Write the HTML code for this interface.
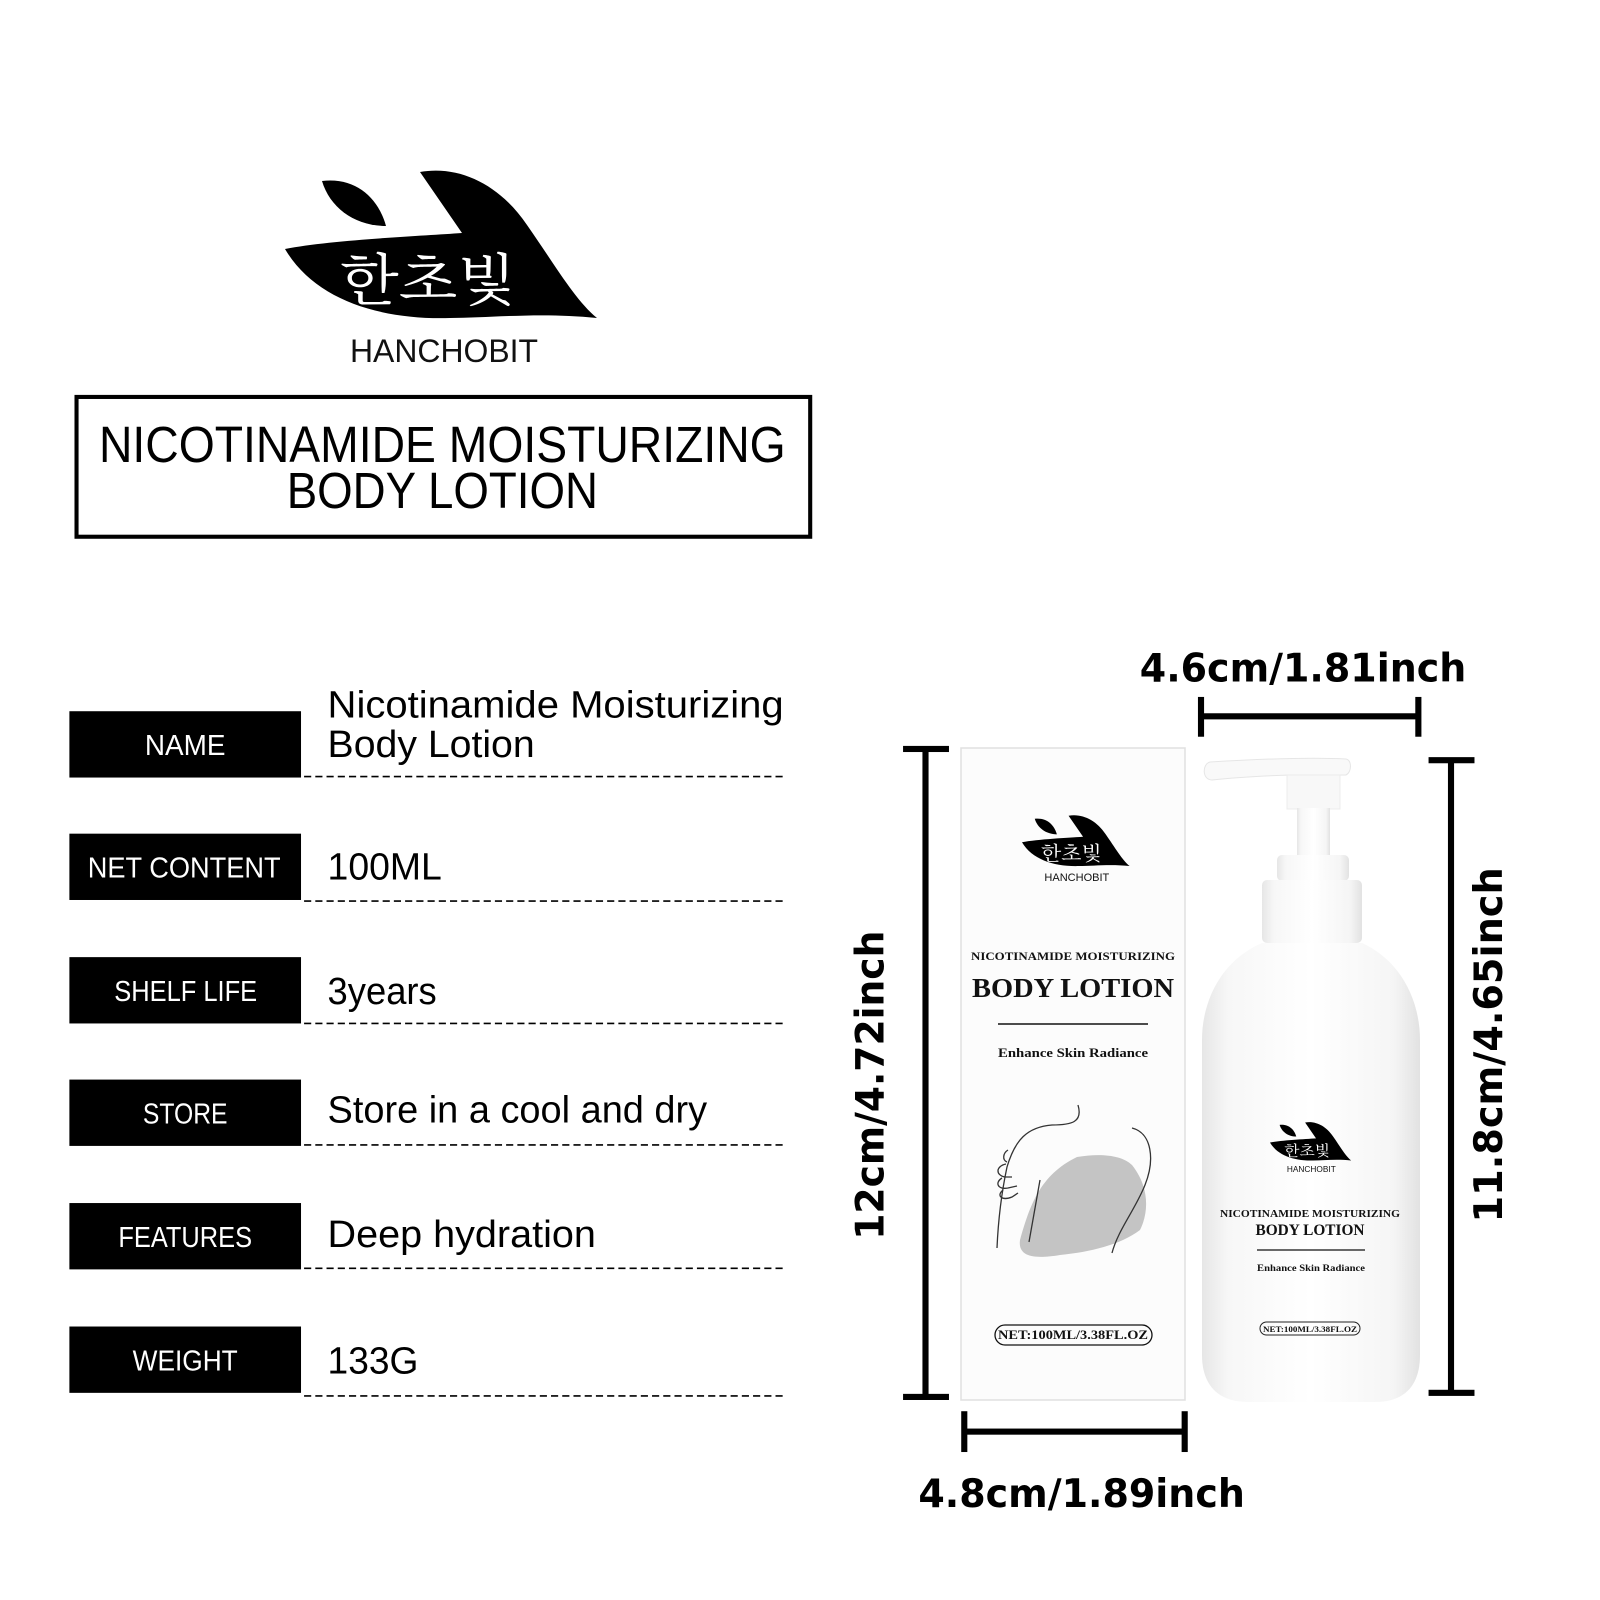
<!DOCTYPE html>
<html><head><meta charset="utf-8"><style>html,body{margin:0;padding:0;background:#fff}svg{display:block}</style></head>
<body>
<svg width="1600" height="1600" viewBox="0 0 1600 1600" xmlns="http://www.w3.org/2000/svg">
<defs>
<linearGradient id="bg" x1="0" x2="1" y1="0" y2="0">
<stop offset="0" stop-color="#e6e6e6"/><stop offset="0.12" stop-color="#f7f7f7"/><stop offset="0.5" stop-color="#fff"/><stop offset="0.88" stop-color="#f5f5f5"/><stop offset="1" stop-color="#e2e2e2"/>
</linearGradient>
</defs>
<rect width="1600" height="1600" fill="#fff"/>

<!-- main logo (real coords) -->
<g>
<path d="M285,249 C330,240 420,236 462,233 L420,172 C460,165 500,185 527,225 C555,265 575,300 597,318 C540,312 490,318 450,318 C380,320 315,300 285,249 Z" fill="#000"/>
<path d="M322,181 C355,177 378,197 386,226 C355,226 330,208 322,181 Z" fill="#000"/>
<text x="340" y="300" font-family="'Noto Serif CJK SC','Noto Sans CJK KR',serif" font-size="56" fill="#fff" textLength="176" lengthAdjust="spacingAndGlyphs">한초빛</text>
<text x="350" y="362" font-family="'Liberation Sans',sans-serif" font-size="32" fill="#111" textLength="188" lengthAdjust="spacingAndGlyphs">HANCHOBIT</text>
</g>

<g transform="scale(1.0204)">
<!-- title box -->
<rect x="75" y="389" width="719" height="137" fill="none" stroke="#000" stroke-width="4"/>
<g font-family="'Liberation Sans Narrow','Liberation Sans',sans-serif" fill="#000">
<text x="97" y="453" font-size="50" textLength="673" lengthAdjust="spacingAndGlyphs">NICOTINAMIDE MOISTURIZING</text>
<text x="281" y="498" font-size="50" textLength="305" lengthAdjust="spacingAndGlyphs">BODY LOTION</text>
</g>

<!-- table -->
<g fill="#000">
<rect x="68" y="697" width="227" height="65"/>
<rect x="68" y="817" width="227" height="65"/>
<rect x="68" y="938" width="227" height="65"/>
<rect x="68" y="1058" width="227" height="65"/>
<rect x="68" y="1179" width="227" height="65"/>
<rect x="68" y="1300" width="227" height="65"/>
</g>
<g font-family="'Liberation Sans Narrow','Liberation Sans',sans-serif" fill="#fff" font-size="28">
<text x="142" y="740" textLength="79" lengthAdjust="spacingAndGlyphs">NAME</text>
<text x="86" y="860" textLength="189" lengthAdjust="spacingAndGlyphs">NET  CONTENT</text>
<text x="112" y="981" textLength="140" lengthAdjust="spacingAndGlyphs">SHELF LIFE</text>
<text x="140" y="1101" textLength="83" lengthAdjust="spacingAndGlyphs">STORE</text>
<text x="116" y="1222" textLength="131" lengthAdjust="spacingAndGlyphs">FEATURES</text>
<text x="130" y="1343" textLength="103" lengthAdjust="spacingAndGlyphs">WEIGHT</text>
</g>
<g font-family="'Liberation Sans Narrow','Liberation Sans',sans-serif" fill="#000" font-size="37">
<text x="321" y="703" textLength="447" lengthAdjust="spacingAndGlyphs">Nicotinamide Moisturizing</text>
<text x="321" y="742" textLength="203" lengthAdjust="spacingAndGlyphs">Body Lotion</text>
<text x="321" y="862" textLength="112" lengthAdjust="spacingAndGlyphs">100ML</text>
<text x="321" y="984" textLength="107" lengthAdjust="spacingAndGlyphs">3years</text>
<text x="321" y="1100" textLength="372" lengthAdjust="spacingAndGlyphs">Store in a cool and dry</text>
<text x="321" y="1222" textLength="263" lengthAdjust="spacingAndGlyphs">Deep hydration</text>
<text x="321" y="1346" textLength="89" lengthAdjust="spacingAndGlyphs">133G</text>
</g>
<g stroke="#000" stroke-width="1.6" stroke-dasharray="7,4">
<line x1="298" y1="761" x2="770" y2="761"/>
<line x1="298" y1="883" x2="770" y2="883"/>
<line x1="298" y1="1003" x2="770" y2="1003"/>
<line x1="298" y1="1122" x2="770" y2="1122"/>
<line x1="298" y1="1243" x2="770" y2="1243"/>
<line x1="298" y1="1368" x2="770" y2="1368"/>
</g>

<!-- dimension bars -->
<g fill="#000">
<rect x="904" y="733" width="6" height="637"/>
<rect x="885" y="731" width="45" height="6"/>
<rect x="885" y="1366" width="45" height="6"/>
<rect x="945" y="1400" width="217" height="6"/>
<rect x="942" y="1383" width="6" height="40"/>
<rect x="1158" y="1383" width="6" height="40"/>
<rect x="1177" y="699" width="213" height="6"/>
<rect x="1174" y="683" width="6" height="39"/>
<rect x="1387" y="683" width="6" height="39"/>
<rect x="1419" y="745" width="6" height="620"/>
<rect x="1400" y="742" width="45" height="6"/>
<rect x="1400" y="1362" width="45" height="6"/>
</g>
<g font-family="'DejaVu Sans',sans-serif" font-weight="bold" font-size="38" fill="#000">
<text x="900" y="1477" textLength="320" lengthAdjust="spacingAndGlyphs">4.8cm/1.89inch</text>
<text x="1117" y="668" textLength="320" lengthAdjust="spacingAndGlyphs">4.6cm/1.81inch</text>
<text transform="translate(866,1215) rotate(-90)" textLength="303" lengthAdjust="spacingAndGlyphs">12cm/4.72inch</text>
<text transform="translate(1472,1198) rotate(-90)" textLength="348" lengthAdjust="spacingAndGlyphs">11.8cm/4.65inch</text>
</g>
</g>

<!-- box (real coords) -->
<rect x="961" y="748" width="224" height="652" fill="#fcfcfc" stroke="#e0e0e0" stroke-width="1.5"/>
<g transform="translate(1022,815) scale(0.345) translate(-285,-170)">
<path d="M285,249 C330,240 420,236 462,233 L420,172 C460,165 500,185 527,225 C555,265 575,300 597,318 C540,312 490,318 450,318 C380,320 315,300 285,249 Z" fill="#000"/>
<path d="M322,181 C355,177 378,197 386,226 C355,226 330,208 322,181 Z" fill="#000"/>
<text x="340" y="300" font-family="'Noto Serif CJK SC','Noto Sans CJK KR',serif" font-size="56" fill="#fff" textLength="176" lengthAdjust="spacingAndGlyphs">한초빛</text>
<text x="350" y="362" font-family="'Liberation Sans',sans-serif" font-size="32" fill="#111" textLength="188" lengthAdjust="spacingAndGlyphs">HANCHOBIT</text>
</g>
<g font-family="'Liberation Serif',serif" font-weight="bold" fill="#111" text-anchor="middle">
<text x="1073" y="960" font-size="11.5" textLength="204" lengthAdjust="spacingAndGlyphs">NICOTINAMIDE MOISTURIZING</text>
<text x="1073" y="997" font-size="27" textLength="202" lengthAdjust="spacingAndGlyphs">BODY LOTION</text>
<text x="1073" y="1057" font-size="13" textLength="150" lengthAdjust="spacingAndGlyphs">Enhance Skin Radiance</text>
<text x="1073" y="1339" font-size="13" textLength="150" lengthAdjust="spacingAndGlyphs">NET:100ML/3.38FL.OZ</text>
</g>
<line x1="998" y1="1024" x2="1148" y2="1024" stroke="#111" stroke-width="1.5"/>
<rect x="995" y="1325" width="157" height="20" rx="10" fill="none" stroke="#111" stroke-width="1.3"/>
<!-- illustration -->
<path d="M1020,1240 C1030,1205 1040,1175 1077,1157 C1100,1153 1122,1155 1132,1165 C1148,1185 1150,1210 1140,1230 C1120,1245 1090,1252 1060,1255 C1030,1260 1018,1255 1020,1240 Z" fill="#c4c4c4"/>
<g fill="none" stroke="#333" stroke-width="1.3">
<path d="M1078,1105 C1083,1122 1072,1125 1052,1125 C1027,1127 1015,1140 1007,1167 C1000,1200 998,1225 997,1248"/>
<path d="M1132,1128 C1152,1133 1155,1160 1145,1185 C1135,1210 1118,1230 1112,1253"/>
<path d="M1040,1180 L1029,1242"/>
<path d="M1008,1150 C1003,1153 1002,1160 1007,1162"/>
<path d="M1006,1164 C996,1166 995,1175 1005,1177 L1012,1177"/>
<path d="M1002,1178 C995,1182 997,1190 1008,1188 L1017,1186"/>
<path d="M1003,1190 C996,1196 1002,1201 1012,1197 L1018,1193"/>
</g>

<!-- bottle (real coords) -->
<path d="M1210,762 C1260,759 1310,757 1346,759 C1352,760 1352,772 1346,775 L1290,775 C1260,776 1230,778 1212,780 C1202,780 1202,764 1210,762 Z" fill="#f9f9f9" stroke="#e6e6e6" stroke-width="1"/>
<rect x="1287" y="775" width="53" height="34" fill="#f8f8f8" stroke="#ececec"/>
<rect x="1297" y="808" width="33" height="48" fill="url(#bg)"/>
<rect x="1277" y="855" width="72" height="26" rx="5" fill="url(#bg)"/>
<rect x="1262" y="880" width="100" height="63" rx="5" fill="url(#bg)"/>
<path d="M1262,943 L1362,943 C1400,960 1420,1000 1420,1040 L1420,1355 C1420,1385 1405,1402 1375,1402 L1248,1402 C1218,1402 1202,1385 1202,1355 L1202,1040 C1202,1000 1222,960 1262,943 Z" fill="url(#bg)"/>
<g transform="translate(1270,1122) scale(0.26) translate(-285,-170)">
<path d="M285,249 C330,240 420,236 462,233 L420,172 C460,165 500,185 527,225 C555,265 575,300 597,318 C540,312 490,318 450,318 C380,320 315,300 285,249 Z" fill="#000"/>
<path d="M322,181 C355,177 378,197 386,226 C355,226 330,208 322,181 Z" fill="#000"/>
<text x="340" y="300" font-family="'Noto Serif CJK SC','Noto Sans CJK KR',serif" font-size="56" fill="#fff" textLength="176" lengthAdjust="spacingAndGlyphs">한초빛</text>
<text x="350" y="362" font-family="'Liberation Sans',sans-serif" font-size="32" fill="#111" textLength="188" lengthAdjust="spacingAndGlyphs">HANCHOBIT</text>
</g>
<g font-family="'Liberation Serif',serif" font-weight="bold" fill="#111" text-anchor="middle">
<text x="1310" y="1217" font-size="10" textLength="180" lengthAdjust="spacingAndGlyphs">NICOTINAMIDE MOISTURIZING</text>
<text x="1310" y="1235" font-size="16" textLength="109" lengthAdjust="spacingAndGlyphs">BODY LOTION</text>
<text x="1311" y="1271" font-size="9.5" textLength="108" lengthAdjust="spacingAndGlyphs">Enhance Skin Radiance</text>
<text x="1310" y="1332" font-size="8" textLength="94" lengthAdjust="spacingAndGlyphs">NET:100ML/3.38FL.OZ</text>
</g>
<line x1="1257" y1="1250" x2="1365" y2="1250" stroke="#111" stroke-width="1.3"/>
<rect x="1260" y="1322" width="100" height="13" rx="6.5" fill="none" stroke="#222" stroke-width="1"/>
</svg>
</body></html>
